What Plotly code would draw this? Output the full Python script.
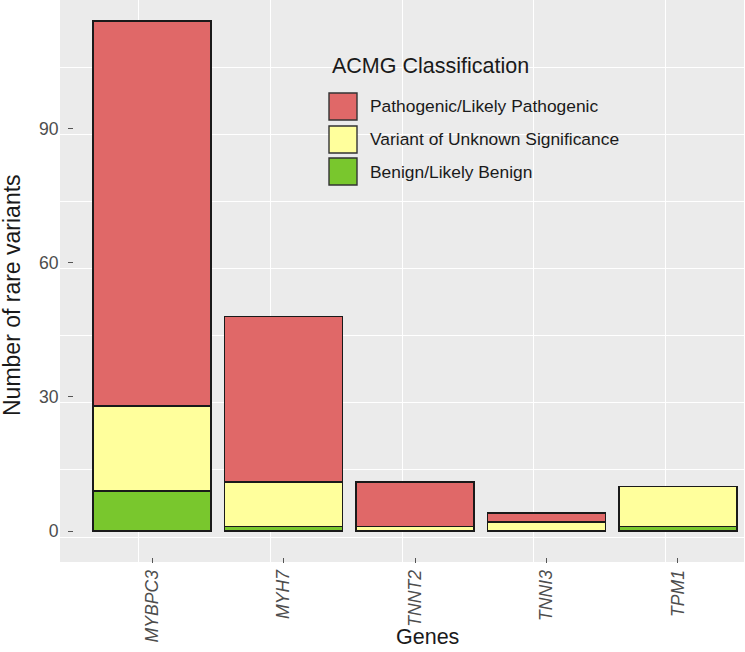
import plotly.graph_objects as go

genes = ["MYBPC3", "MYH7", "TNNT2", "TNNI3", "TPM1"]
benign = [9, 1, 0, 0, 1]
vus = [19, 10, 1, 2, 9]
pathogenic = [86, 37, 10, 2, 0]

classes = ["Pathogenic/Likely Pathogenic", "Variant of Unknown Significance", "Benign/Likely Benign"]
colors = {"Pathogenic/Likely Pathogenic": "#E06868",
          "Variant of Unknown Significance": "#FFFF9C",
          "Benign/Likely Benign": "#79C72D"}

y_ticks = [0, 30, 60, 90]
y_minor = [15, 45, 75, 105]

W, H = 745, 652
ML, MR, MT, MB = 60, 1, 0, 90
PW, PH = W - ML - MR, H - MT - MB
FONT = "Liberation Sans, Arial, sans-serif"


def px(x):
    return (x - ML) / PW


def py(y):
    return (H - MB - y) / PH


fig = go.Figure()
# invisible helper trace so the background grid subplot is drawn
fig.add_trace(go.Scatter(x=genes, y=benign, mode="markers", marker=dict(opacity=0),
                         hoverinfo="skip", showlegend=False, xaxis="x", yaxis="y"))

series = [("Benign/Likely Benign", benign),
          ("Variant of Unknown Significance", vus),
          ("Pathogenic/Likely Pathogenic", pathogenic)]
for name, vals in series:
    fig.add_trace(go.Bar(x=genes, y=vals, name=name, width=0.9,
                         marker=dict(color=colors[name], line=dict(color="#1a1a1a", width=1.5)),
                         xaxis="x2", yaxis="y2", showlegend=False))

fig.update_layout(
    width=W, height=H, barmode="stack",
    margin=dict(l=ML, r=MR, t=MT, b=MB, pad=0),
    paper_bgcolor="white", plot_bgcolor="#EBEBEB",
    font=dict(family=FONT, color="#1a1a1a"),
    xaxis=dict(type="category", range=[-0.6, 4.6], showticklabels=False,
               ticks="", showgrid=True, gridcolor="white", gridwidth=1.3, zeroline=False),
    yaxis=dict(range=[-5.59, 120.08], tickvals=y_ticks, showticklabels=False, ticks="",
               showgrid=True, gridcolor="white", gridwidth=1.3, zeroline=False,
               minor=dict(tickvals=y_minor, showgrid=True, gridcolor="white", gridwidth=0.6)),
    xaxis2=dict(overlaying="x", anchor="free", position=5 / PH, type="category",
                range=[-0.70, 4.502], tickangle=-90, ticks="outside", ticklen=5,
                tickcolor="#555555", tickwidth=1, showgrid=False, zeroline=False, showline=False,
                tickfont=dict(family=FONT, size=17.6, color="#4D4D4D", style="italic")),
    yaxis2=dict(overlaying="y", anchor="free", position=13 / PW, side="left",
                range=[-6.93, 118.74], tickvals=y_ticks, ticks="outside", ticklen=5,
                tickcolor="#555555", tickwidth=1, showgrid=False, zeroline=False, showline=False,
                ticklabelstandoff=6,
                tickfont=dict(family=FONT, size=17.6, color="#4D4D4D")),
)

# manual legend
key_rows = [(93, 120), (126, 153), (158, 185)]
for (y0, y1), name in zip(key_rows, classes):
    fig.add_shape(type="rect", xref="paper", yref="paper",
                  x0=px(329), x1=px(357), y0=py(y1), y1=py(y0),
                  fillcolor=colors[name], line=dict(color="#333333", width=1.4))
    fig.add_annotation(xref="paper", yref="paper", x=px(368), y=py((y0 + y1) / 2),
                       text=name, showarrow=False, xanchor="left", yanchor="middle",
                       font=dict(family=FONT, size=17.4, color="#1a1a1a"))
fig.add_annotation(xref="paper", yref="paper", x=px(330), y=py(66),
                   text="ACMG Classification", showarrow=False, xanchor="left", yanchor="middle",
                   font=dict(family=FONT, size=21.5, color="#1a1a1a"))

# axis titles
fig.add_annotation(xref="paper", yref="paper", x=px(12), y=py(295),
                   text="Number of rare variants", showarrow=False, textangle=-90,
                   xanchor="center", yanchor="middle",
                   font=dict(family=FONT, size=23, color="#1a1a1a"))
fig.add_annotation(xref="paper", yref="paper", x=px(427.5), y=py(651),
                   text="Genes", showarrow=False, xanchor="center", yanchor="bottom",
                   font=dict(family=FONT, size=21.5, color="#1a1a1a"))

fig.write_html("out.html", config={"displayModeBar": False},
               post_script="document.body.style.margin='0';")
